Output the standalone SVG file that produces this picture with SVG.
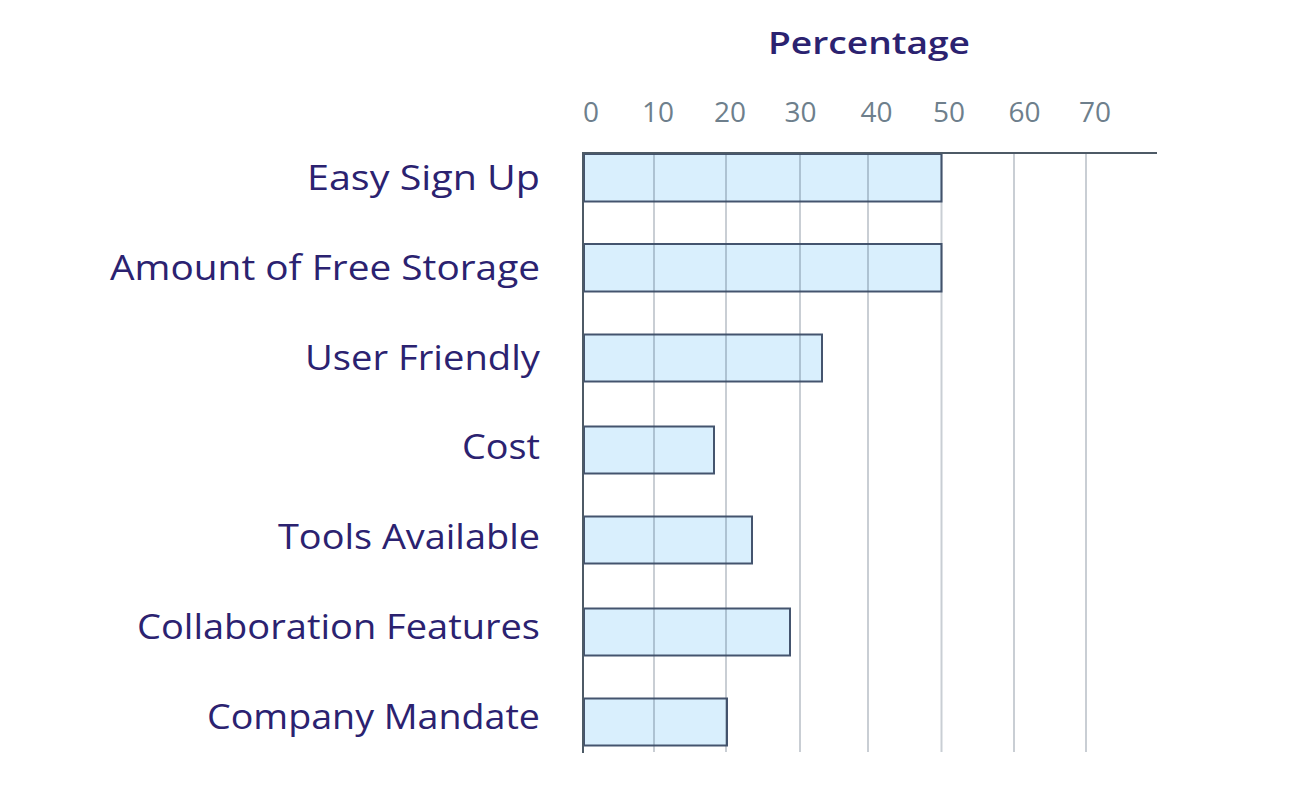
<svg xmlns="http://www.w3.org/2000/svg" width="1300" height="802" viewBox="0 0 1300 802">
  <style>
    .lbl { font-family: "Open Sans", "Noto Sans", "DejaVu Sans", sans-serif; font-size: 34px; fill: #2b2270; text-anchor: end; }
    .tick { font-family: "Open Sans", "Noto Sans", "DejaVu Sans", sans-serif; font-size: 28px; fill: #6e7f8c; text-anchor: middle; }
    .title { font-family: "Open Sans", "Noto Sans", "DejaVu Sans", sans-serif; font-size: 31px; font-weight: 600; fill: #2b2270; text-anchor: middle; }
    .bar { fill: #d9effd; stroke: #44546e; stroke-width: 2; }
    .grid { stroke: rgba(60,80,100,0.28); stroke-width: 2; }
    .axis { stroke: #4d5a66; stroke-width: 2; }
  </style>
  <rect width="1300" height="802" fill="#ffffff"/>

  <g id="title">
    <text class="title" x="869" y="54" textLength="202" lengthAdjust="spacingAndGlyphs">Percentage</text>
  </g>

  <g id="ticks">
    <text class="tick" x="591" y="122">0</text>
    <text class="tick" x="658" y="122">10</text>
    <text class="tick" x="730" y="122">20</text>
    <text class="tick" x="800.5" y="122">30</text>
    <text class="tick" x="876.5" y="122">40</text>
    <text class="tick" x="949" y="122">50</text>
    <text class="tick" x="1024.5" y="122">60</text>
    <text class="tick" x="1095" y="122">70</text>
  </g>

  <g id="row-easy-sign-up">
    <text class="lbl" x="540" y="190" textLength="233" lengthAdjust="spacingAndGlyphs">Easy Sign Up</text>
    <rect class="bar" x="584" y="154" width="357.5" height="47.5"/>
  </g>
  <g id="row-amount-of-free-storage">
    <text class="lbl" x="540" y="280" textLength="430" lengthAdjust="spacingAndGlyphs">Amount of Free Storage</text>
    <rect class="bar" x="584" y="244" width="357.5" height="47.5"/>
  </g>
  <g id="row-user-friendly">
    <text class="lbl" x="540" y="370" textLength="235" lengthAdjust="spacingAndGlyphs">User Friendly</text>
    <rect class="bar" x="584" y="334.5" width="238" height="47"/>
  </g>
  <g id="row-cost">
    <text class="lbl" x="540" y="459" textLength="78" lengthAdjust="spacingAndGlyphs">Cost</text>
    <rect class="bar" x="584" y="426.5" width="130" height="47"/>
  </g>
  <g id="row-tools-available">
    <text class="lbl" x="540" y="549" textLength="262" lengthAdjust="spacingAndGlyphs">Tools Available</text>
    <rect class="bar" x="584" y="516.5" width="168" height="47"/>
  </g>
  <g id="row-collaboration-features">
    <text class="lbl" x="540" y="639" textLength="403" lengthAdjust="spacingAndGlyphs">Collaboration Features</text>
    <rect class="bar" x="584" y="608.5" width="206" height="47"/>
  </g>
  <g id="row-company-mandate">
    <text class="lbl" x="540" y="729" textLength="333" lengthAdjust="spacingAndGlyphs">Company Mandate</text>
    <rect class="bar" x="584" y="698.5" width="143" height="47"/>
  </g>

  <g id="gridlines">
    <line class="grid" x1="654" y1="154" x2="654" y2="752"/>
    <line class="grid" x1="726" y1="154" x2="726" y2="752"/>
    <line class="grid" x1="800" y1="154" x2="800" y2="752"/>
    <line class="grid" x1="868" y1="154" x2="868" y2="752"/>
    <line class="grid" x1="941.5" y1="154" x2="941.5" y2="752"/>
    <line class="grid" x1="1014" y1="154" x2="1014" y2="752"/>
    <line class="grid" x1="1086" y1="154" x2="1086" y2="752"/>
  </g>

  <g id="axes">
    <line class="axis" x1="582" y1="153" x2="1157" y2="153"/>
    <line class="axis" x1="583" y1="152" x2="583" y2="753"/>
  </g>
</svg>
